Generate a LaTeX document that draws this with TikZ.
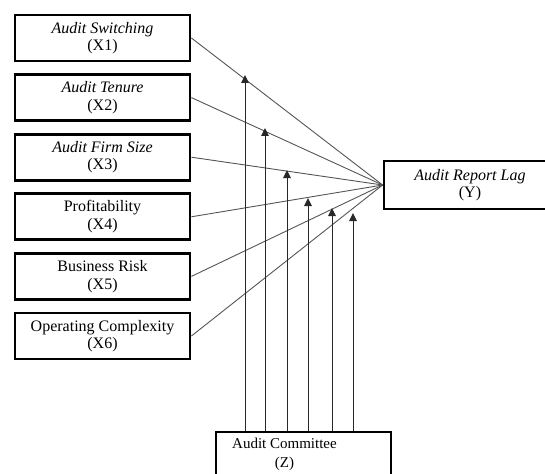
\documentclass[tikz,border=0pt]{standalone}
\usepackage{fontspec}
\setmainfont{Liberation Serif}
\usepackage{tikz}
\usetikzlibrary{arrows.meta, positioning}
\definecolor{linegray}{RGB}{85, 85, 85}
\definecolor{arrowgray}{RGB}{40, 40, 40}

\begin{document}
\begin{tikzpicture}[
    x=1pt, y=-1pt,
    node distance=10.8pt,
    varbox/.style={rectangle, draw=black, line width=2.8pt, minimum width=175pt, minimum height=46pt, align=center, font=\fontsize{16}{17.5}\selectfont, inner sep=0pt},
    path/.style={draw=linegray, line width=0.9pt},
    moderate/.style={draw=arrowgray, line width=1pt, -{Triangle[width=7.5pt, length=8pt]}}
]
    \useasboundingbox (0,0) rectangle (545,473);

    % Independent variables
    \node (x1) [varbox] at (102.5,38) {\textit{Audit Switching}\\(X1)};
    \node (x2) [varbox, below=of x1] {\textit{Audit Tenure}\\(X2)};
    \node (x3) [varbox, below=of x2] {\textit{Audit Firm Size}\\(X3)};
    \node (x4) [varbox, below=of x3] {Profitability\\(X4)};
    \node (x5) [varbox, below=of x4] {Business Risk\\(X5)};
    \node (x6) [varbox, below=of x5] {Operating Complexity\\(X6)};

    % Dependent variable
    \node (y) [varbox, minimum width=172pt, minimum height=48pt] at (470,185) {\textit{Audit Report Lag}\\(Y)};

    % Moderating variable
    \node (z) [varbox, minimum height=48pt, label={[xshift=-19pt, yshift=1.5pt, align=center, font=\fontsize{15}{19}\selectfont]center:Audit Committee\\(Z)}] at (303.5,456) {};

    % Paths X -> Y
    \foreach \i in {1,...,6}
        \draw [path] (x\i.east) -- (y.west);

    % Points where Z meets each path
    \coordinate (m1) at (245,75);
    \coordinate (m2) at (265,128);
    \coordinate (m3) at (287,170);
    \coordinate (m4) at (308,198);
    \coordinate (m5) at (332,208);
    \coordinate (m6) at (353,213);

    % Moderating arrows
    \foreach \i in {1,...,6}
        \draw [moderate] (z.north -| m\i) -- (m\i);

\end{tikzpicture}
\end{document}
